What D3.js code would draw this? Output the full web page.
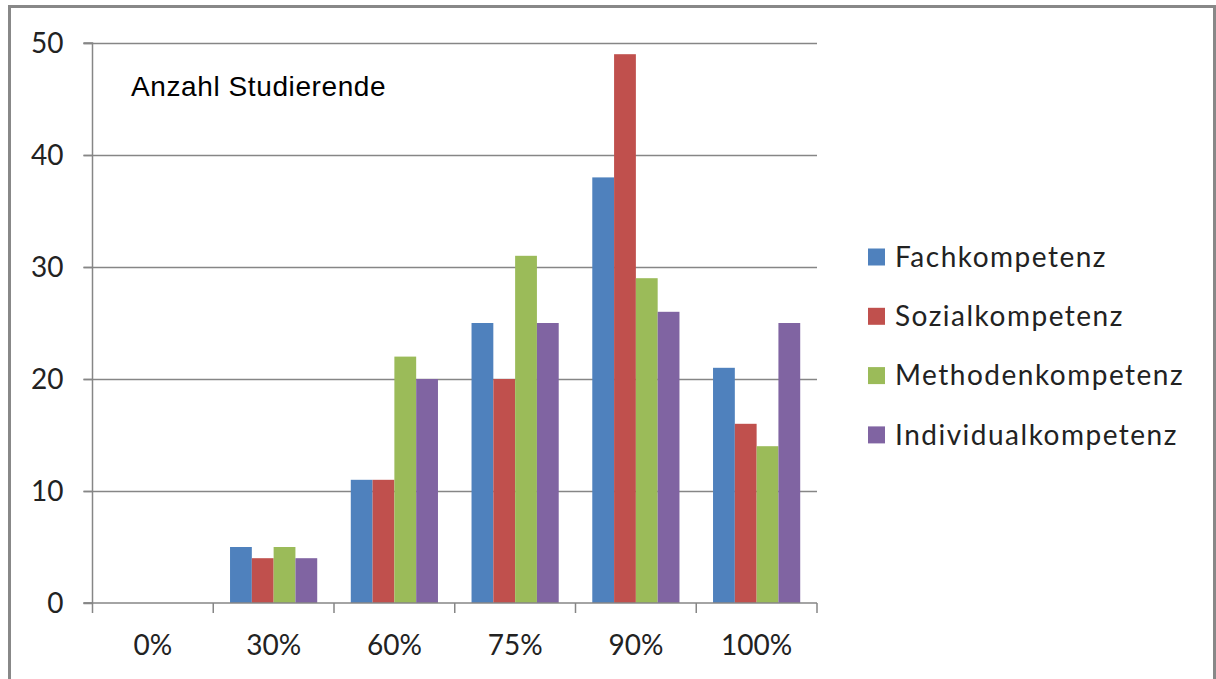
<!DOCTYPE html>
<html><head><meta charset="utf-8">
<script src="https://cdn.jsdelivr.net/npm/d3@7"></script>
<style>html,body{margin:0;padding:0;background:#fff;}svg{display:block;}</style>
</head><body>
<svg id="c" width="1216" height="679"></svg>
<script>
const categories = ["0%", "30%", "60%", "75%", "90%", "100%"];
const seriesNames = ["Fachkompetenz", "Sozialkompetenz", "Methodenkompetenz", "Individualkompetenz"];
const fach = [0, 5, 11, 25, 38, 21];
const sozial = [0, 4, 11, 20, 49, 16];
const methoden = [0, 5, 22, 31, 29, 14];
const individual = [0, 4, 20, 25, 26, 25];
const yTicks = [0, 10, 20, 30, 40, 50];
const colors = ["#4F81BD", "#C0504D", "#9BBB59", "#8064A2"];
const title = "Anzahl Studierende";

const values = [fach, sozial, methoden, individual];
const svg = d3.select("#c");
const L = 92.5, R = 817, T = 43, B = 603;
const axisColor = "#868686";
const tickFont = "Lato, 'Open Sans', sans-serif";

// outer frame
svg.append("path").attr("d", "M9.5,679 V6.5 H1214.5 V679").attr("fill", "none").attr("stroke", "#888").attr("stroke-width", 3);

const y = d3.scaleLinear().domain([0, 50]).range([B, T]);
const x0 = d3.scaleBand().domain(categories).range([L, R]).paddingInner(0).paddingOuter(0);
const x1 = d3.scaleBand().domain(seriesNames).range([0, x0.bandwidth()]).paddingInner(0).paddingOuter(0.77);

// gridlines
svg.append("g").selectAll("line").data(yTicks.filter(d => d > 0)).join("line")
  .attr("x1", L - 9).attr("x2", R).attr("y1", d => Math.round(y(d)) + 0.5).attr("y2", d => Math.round(y(d)) + 0.5)
  .attr("stroke", axisColor).attr("stroke-width", 1.5);

// bars
const groups = svg.append("g").selectAll("g").data(categories).join("g")
  .attr("transform", c => `translate(${x0(c)},0)`);
groups.selectAll("rect").data((c, i) => seriesNames.map((s, j) => ({s, v: values[j][i], j})))
  .join("rect")
  .attr("x", d => x1(d.s)).attr("width", x1.bandwidth())
  .attr("y", d => y(d.v)).attr("height", d => B - y(d.v))
  .attr("fill", d => colors[d.j]);

// y axis
const yAxis = d3.axisLeft(y).tickValues(yTicks).tickSize(9).tickPadding(20).tickFormat(d3.format("d"));
const gy = svg.append("g").attr("transform", `translate(${L},0)`).call(yAxis);
gy.select(".domain").attr("stroke", axisColor).attr("stroke-width", 1.5).attr("d", `M-9,${B}H0V${T}H-9`);
gy.selectAll(".tick line").attr("stroke", axisColor).attr("stroke-width", 1.5);
gy.selectAll(".tick text").attr("font-family", tickFont).attr("font-size", 28).attr("fill", "#222").attr("x", -29).attr("dy", "0.35em");

// x axis
const xAxis = d3.axisBottom(x0).tickSize(0).tickPadding(0);
const gx = svg.append("g").attr("transform", `translate(0,${B})`).call(xAxis);
gx.select(".domain").attr("stroke", axisColor).attr("stroke-width", 1.5).attr("d", `M${L-9},0H${R}`);
gx.selectAll(".tick text").attr("font-family", tickFont).attr("font-size", 28).attr("fill", "#222").attr("y", 52).attr("dy", 0);
// boundary tick marks
const bounds = categories.map(c => x0(c)).concat([x0(categories[categories.length-1]) + x0.bandwidth()]);
gx.append("g").selectAll("line").data(bounds).join("line")
  .attr("x1", d => d).attr("x2", d => d).attr("y1", 0).attr("y2", 10)
  .attr("stroke", axisColor).attr("stroke-width", 1.5);

// title
svg.append("text").attr("x", 131).attr("y", 96).text(title)
  .attr("font-family", "'Liberation Sans', Arial, sans-serif").attr("font-size", 28)
  .attr("letter-spacing", 0.6).attr("fill", "#000");

// legend
const legend = svg.append("g").selectAll("g").data(seriesNames).join("g")
  .attr("transform", (d, i) => `translate(868,${257 + i * 59.3})`);
legend.append("rect").attr("x", 0).attr("y", -8.5).attr("width", 17).attr("height", 17).attr("fill", (d, i) => colors[i]);
legend.append("text").attr("x", 27).attr("y", 0).attr("dy", "0.35em").text(d => d)
  .attr("font-family", tickFont).attr("font-size", 28).attr("letter-spacing", 1.5).attr("fill", "#222");
</script>
</body></html>
